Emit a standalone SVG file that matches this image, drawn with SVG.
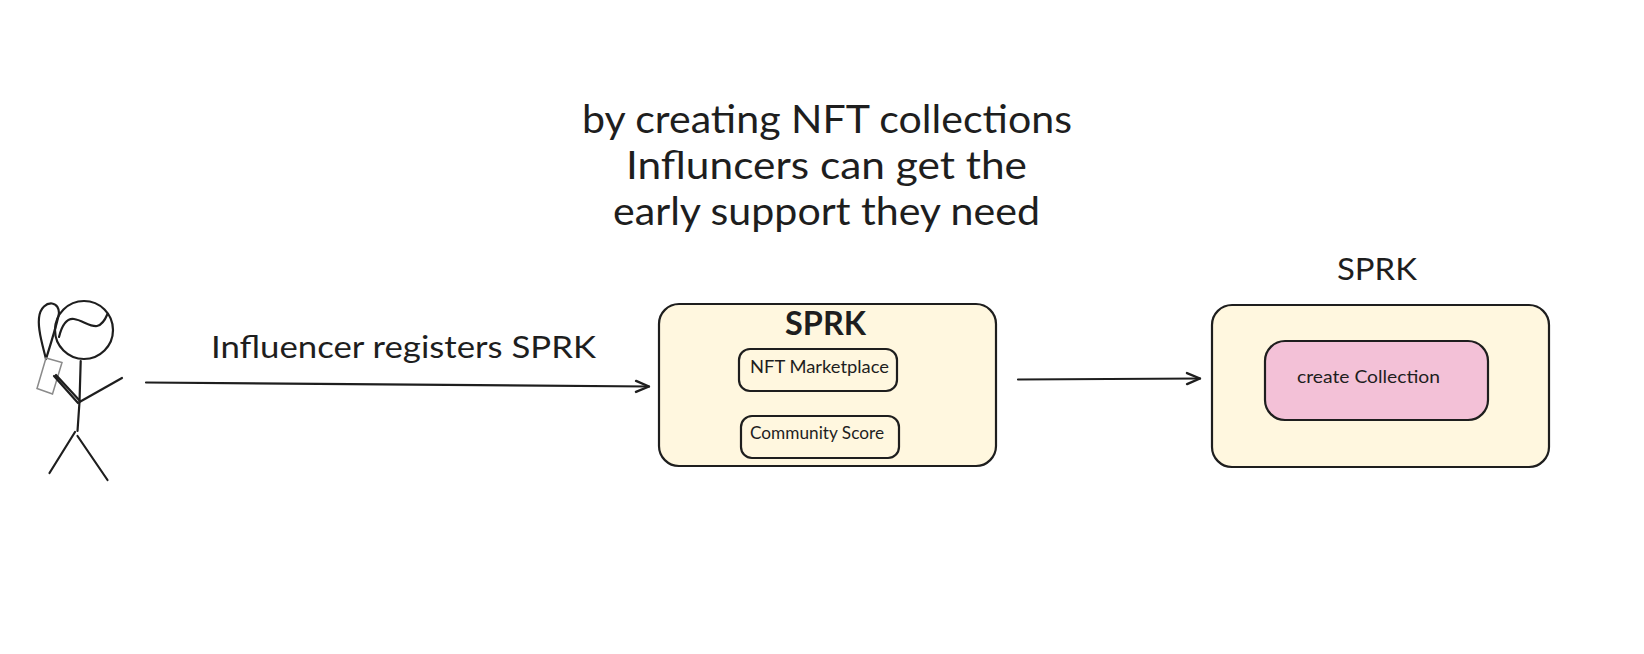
<svg xmlns="http://www.w3.org/2000/svg" width="1644" height="654" viewBox="0 0 1644 654">
<style>
text{font-family:"Lato","Open Sans",sans-serif;fill:#1e1e1e;text-anchor:start}
.box{fill:#fff7df;stroke:#1e1e1e;stroke-width:2.200}
.pink{fill:#f3c1d7;stroke:#1e1e1e;stroke-width:2.200}
.ln{fill:none;stroke:#1e1e1e;stroke-width:2.200;stroke-linecap:round;stroke-linejoin:round}
.t{font-size:38px}.m{font-size:30px}.h{font-size:32px;font-weight:700}.s{font-size:18px}
</style>
<defs>
<marker id="arr" markerUnits="userSpaceOnUse" markerWidth="18" markerHeight="18" refX="15" refY="7" orient="auto" overflow="visible">
<path d="M2 1.500L15 7L2 12.500" fill="none" stroke="#1e1e1e" stroke-width="2.400" stroke-linecap="round" stroke-linejoin="round"/>
</marker>
</defs>
<rect width="1644" height="654" fill="#fff"/>
<g id="title">
<text class="t" x="582" y="133" textLength="490" lengthAdjust="spacingAndGlyphs">by creating NFT collections</text>
<text class="t" x="626" y="179" textLength="401" lengthAdjust="spacingAndGlyphs">Influncers can get the</text>
<text class="t" x="613" y="225" textLength="427" lengthAdjust="spacingAndGlyphs">early support they need</text>
</g>
<g id="influencer">
<circle class="ln" cx="84" cy="330" r="29"/>
<path class="ln" d="M59 337C62 325 67 318 74 319C82 320 90 327 97 326C102 325 105 320 107.500 314"/>
<path class="ln" d="M46 359C41 340 38 328 39 318C40 307 47 303 52 303.500C57 304 59 309 59 313C58 320 51 343 46 359"/>
<path d="M46 358L62 362.500L52.500 394L37 388.500Z" fill="none" stroke="#8a8a8a" stroke-width="1.500"/>
<path class="ln" d="M80.700 361L79.500 402L77.500 431"/>
<path class="ln" d="M79.500 402L122 378"/>
<path class="ln" d="M78 403L54 376M80 401L56 375"/>
<path class="ln" d="M75 432L49.500 473"/>
<path class="ln" d="M77.500 436L107.500 480"/>
</g>
<g id="connectors">
<path class="ln" d="M146 382.500L649 386.500" marker-end="url(#arr)"/>
<path class="ln" d="M1018 379.500L1200 378.500" marker-end="url(#arr)"/>
</g>
<g id="edge-label"><text class="m" x="211" y="358" textLength="385" lengthAdjust="spacingAndGlyphs">Influencer registers SPRK</text></g>
<g id="sprk-left">
<rect class="box" x="659" y="304" width="337" height="162" rx="20"/>
<text class="h" x="785" y="335" textLength="81" lengthAdjust="spacingAndGlyphs">SPRK</text>
</g>
<g id="nft-marketplace">
<rect class="box" x="739" y="349" width="158" height="42" rx="11"/>
<text class="s" x="750" y="373" textLength="139" lengthAdjust="spacingAndGlyphs">NFT Marketplace</text>
</g>
<g id="community-score">
<rect class="box" x="741" y="416" width="158" height="42" rx="11"/>
<text class="s" x="750" y="439" textLength="134" lengthAdjust="spacingAndGlyphs">Community Score</text>
</g>
<g id="sprk-right-label"><text class="m" x="1337" y="280" textLength="80" lengthAdjust="spacingAndGlyphs">SPRK</text></g>
<g id="sprk-right"><rect class="box" x="1212" y="305" width="337" height="162" rx="20"/></g>
<g id="create-collection">
<rect class="pink" x="1265" y="341" width="223" height="79" rx="20"/>
<text class="s" x="1297" y="383" textLength="143" lengthAdjust="spacingAndGlyphs">create Collection</text>
</g>
</svg>
